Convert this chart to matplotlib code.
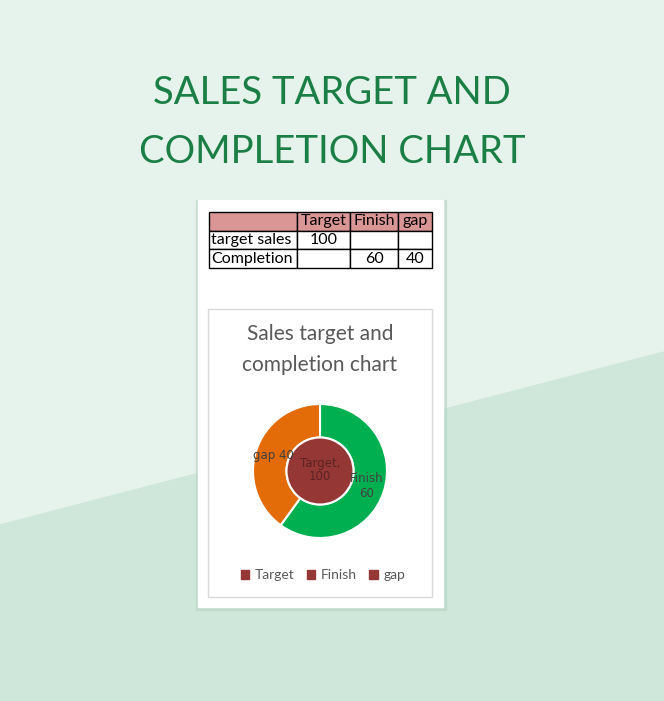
import matplotlib.pyplot as plt
import matplotlib.patches as mpatches
import numpy as np

# data
col_labels = ['', 'Target', 'Finish', 'gap']
row_target = ['target sales', '100', '', '']
row_completion = ['Completion', '', '60', '40']

inner_labels = ['Target']
inner_values = [100]
outer_labels = ['Finish', 'gap']
outer_values = [60, 40]

legend_labels = ['Target', 'Finish', 'gap']

W, H = 664, 701
fig = plt.figure(figsize=(W / 100, H / 100), dpi=100)
plt.rcParams['font.family'] = ['Lato', 'DejaVu Sans']


def box(x0, y0, x1, y1):
    # pixel box (top-left origin) -> figure fraction rect
    return [x0 / W, 1 - y1 / H, (x1 - x0) / W, (y1 - y0) / H]


# background with diagonal split
bg = fig.add_axes([0, 0, 1, 1])
bg.set_xlim(0, W)
bg.set_ylim(H, 0)
bg.axis('off')
bg.add_patch(mpatches.Rectangle((0, 0), W, H, color='#e6f3ec', zorder=0))
bg.add_patch(mpatches.Polygon([(0, 525), (W, 352), (W, H), (0, H)],
                              closed=True, color='#cee7da', zorder=1))

# card with soft shadow
bg.add_patch(mpatches.Rectangle((196, 200), 250, 410, color='#b9d6c6', alpha=0.6, zorder=2))
bg.add_patch(mpatches.Rectangle((198, 200), 245, 407, color='white', zorder=3))
bg.add_patch(mpatches.Rectangle((208, 309), 224, 288, facecolor='white',
                                edgecolor='#d9d9d9', lw=1, zorder=4))

fig.text(0.5, 1 - 93 / H, 'SALES TARGET AND', ha='center', va='center',
         fontsize=27.5, color='#1b7f45')
fig.text(0.5, 1 - 152 / H, 'COMPLETION CHART', ha='center', va='center',
         fontsize=27.5, color='#1b7f45')

# data table
tax = fig.add_axes(box(209, 212, 432, 268))
tax.axis('off')
tbl = tax.table(cellText=[row_target, row_completion], colLabels=col_labels,
                colWidths=[88, 53, 48, 34], bbox=[0, 0, 1, 1], cellLoc='center')
tbl.auto_set_font_size(False)
for (r, c), cell in tbl.get_celld().items():
    cell.set_linewidth(1.0)
    cell.set_edgecolor('black')
    cell.get_text().set_fontsize(11.5)
    cell.get_text().set_color('black')
    cell.PAD = 0.02
    if r == 0:
        cell.set_facecolor('#d99694')
    if c == 0 and r > 0:
        cell.get_text().set_ha('left')
        cell._loc = 'left'

# chart title
fig.text(320 / W, 1 - 334 / H, 'Sales target and', ha='center', va='center',
         fontsize=15, color='#595959')
fig.text(320 / W, 1 - 365 / H, 'completion chart', ha='center', va='center',
         fontsize=15, color='#595959')

# doughnut
ax = fig.add_axes(box(253, 404, 387, 538))
outer, _ = ax.pie(outer_values, radius=1, colors=['#00b050', '#e36c09'],
                  startangle=90, counterclock=False,
                  wedgeprops=dict(width=0.5, edgecolor='white', linewidth=1.5))
inner, _ = ax.pie(inner_values, radius=0.5, colors=['#953735'], startangle=90,
                  counterclock=False,
                  wedgeprops=dict(edgecolor='white', linewidth=1.5))
ax.set_xlim(-1, 1)
ax.set_ylim(-1, 1)
ax.set_aspect('equal')

for w, lab, val in zip(outer, outer_labels, outer_values):
    mid = np.deg2rad((w.theta1 + w.theta2) / 2)
    if lab == 'gap':
        txt = f'{lab} {val}'
    else:
        txt = f'{lab}\n{val}'
    ax.text(0.73 * np.cos(mid), 0.73 * np.sin(mid), txt, ha='center', va='center',
            fontsize=8.5, color='#404040', family=['DejaVu Sans'])
ax.text(0, 0.02, f'{inner_labels[0]},\n{inner_values[0]}', ha='center', va='center',
        fontsize=8.5, color='#5a2424', family=['DejaVu Sans'], linespacing=1.0)

handles = [mpatches.Patch(color='#953735') for _ in legend_labels]
fig.legend(handles, legend_labels, loc='center', bbox_to_anchor=(323 / W, 1 - 575 / H),
           ncol=3, frameon=False, fontsize=10, handlelength=0.6, handleheight=0.6,
           handletextpad=0.4, columnspacing=0.9, labelcolor='#595959')

fig.savefig('out.png', dpi=100)
